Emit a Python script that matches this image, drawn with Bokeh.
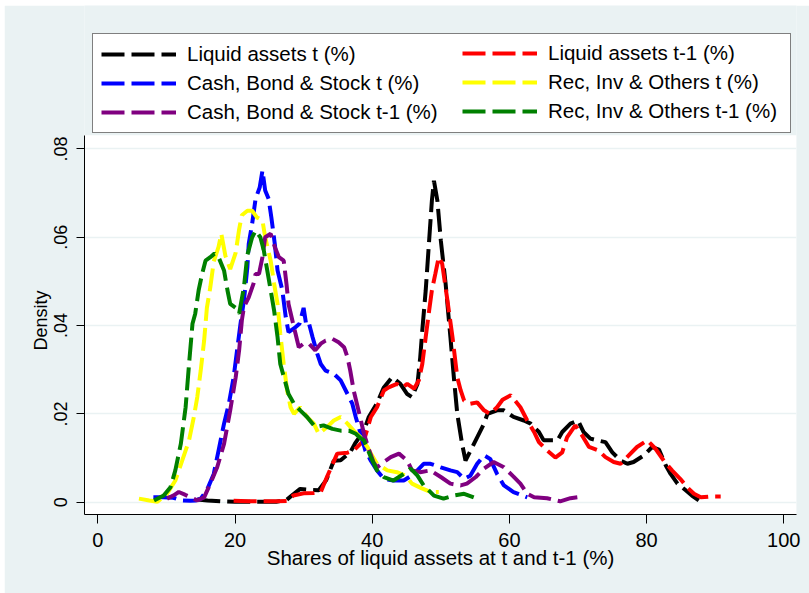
from bokeh.plotting import figure
from bokeh.models import Legend, LegendItem, FixedTicker, Range1d, BoxAnnotation, Title
from bokeh.embed import file_html
from bokeh.resources import INLINE

# ---- data (x = share in %, y = density) ----
liq_t_x = [14.5, 16, 18, 20, 22, 24, 26, 27.5, 28.5, 29.5, 31, 32.2, 33.3, 34.4, 35.4, 36.8, 37.5,
           38.8, 39.5, 40.7, 41.7, 42.9, 44.1, 45.1, 45.8, 46.6, 47.0, 47.3, 47.8, 48.3, 48.7, 49.0,
           49.5, 50.0, 50.7, 51.4, 51.9, 52.4, 53.1, 53.6, 54.6, 55.3, 56.3, 56.8, 58.2, 59.2, 60.6,
           62.1, 63.1, 64.3, 65.0, 66.0, 67.0, 67.7, 68.9, 70.0, 70.8, 71.8, 72.8, 74.0, 75.0, 76.2,
           77.2, 78.1, 79.6, 80.8, 81.8, 82.8, 83.5, 84.5, 85.7, 86.6, 87.6]
liq_t_y = [0.0006, 0.0004, 0.0002, 0.0001, 0.0001, 0.0001, 0.0001, 0.0005, 0.0018, 0.0030, 0.0028,
           0.0027, 0.0050, 0.0094, 0.0095, 0.0113, 0.0133, 0.0162, 0.0193, 0.0224, 0.0260, 0.0283,
           0.0268, 0.0245, 0.0238, 0.0268, 0.0328, 0.0389, 0.0480, 0.0593, 0.0683, 0.0728, 0.0683,
           0.0593, 0.0495, 0.0374, 0.0283, 0.0200, 0.0132, 0.0094, 0.0125, 0.0147, 0.0178, 0.0200,
           0.0208, 0.0208, 0.0193, 0.0185, 0.0178, 0.0159, 0.0140, 0.0140, 0.0140, 0.0159, 0.0178,
           0.0185, 0.0159, 0.0144, 0.0140, 0.0136, 0.0113, 0.0094, 0.0087, 0.0091, 0.0106, 0.0125,
           0.0119, 0.0083, 0.0064, 0.0042, 0.0027, 0.0015, 0.0004]

liq_t1_x = [19.8, 22, 24, 26, 27.6, 28.5, 30, 31.5, 32.5, 33.4, 34.9, 36.4, 37.3, 38.8, 39.8, 40.7,
            41.7, 42.4, 43.6, 44.4, 45.1, 46.1, 46.8, 47.3, 47.8, 48.3, 48.7, 49.2, 49.7, 50.2, 50.9,
            51.7, 52.4, 52.9, 53.4, 54.3, 55.3, 56.3, 57.2, 58.2, 59.0, 60.2, 61.6, 62.6, 63.6, 64.3,
            65.5, 66.7, 67.7, 68.4, 69.6, 70.6, 71.6, 73.0, 74.0, 75.2, 76.2, 77.4, 78.6, 80.1, 81.3,
            82.5, 83.7, 84.9, 85.9, 86.9, 87.9, 89.3, 90.8]
liq_t1_y = [0.0003, 0.0002, 0.0002, 0.0002, 0.0003, 0.0015, 0.0020, 0.0021, 0.0023, 0.0057, 0.0110,
            0.0112, 0.0117, 0.0140, 0.0193, 0.0215, 0.0253, 0.0260, 0.0268, 0.0260, 0.0268, 0.0257,
            0.0276, 0.0313, 0.0374, 0.0434, 0.0480, 0.0517, 0.0555, 0.0540, 0.0464, 0.0374, 0.0283,
            0.0253, 0.0230, 0.0223, 0.0226, 0.0208, 0.0200, 0.0215, 0.0232, 0.0242, 0.0215, 0.0185,
            0.0159, 0.0136, 0.0117, 0.0101, 0.0113, 0.0147, 0.0174, 0.0151, 0.0125, 0.0117, 0.0102,
            0.0091, 0.0087, 0.0106, 0.0125, 0.0140, 0.0121, 0.0094, 0.0072, 0.0053, 0.0034, 0.0019,
            0.0011, 0.0013, 0.0013]

cbs_t_x = [8.1, 9.5, 11, 12.3, 13.5, 14.3, 15.0, 15.9, 16.9, 17.6, 18.4, 19.1, 19.8, 20.3, 20.8, 21.3,
           21.8, 22.0, 22.5, 23.0, 23.6, 24.0, 24.4, 24.9, 25.3, 25.8, 26.2, 26.9, 27.4, 27.8, 28.8,
           29.4, 30.0, 30.4, 30.8, 31.3, 32.0, 32.5, 33.2, 34.4, 35.4, 36.4, 37.1, 37.6, 38.3, 39.0,
           39.8, 40.7, 41.7, 43.1, 44.6, 46.1, 47.5, 48.5, 50.0, 51.4, 52.4, 53.4, 54.3, 55.3, 56.3,
           57.2, 58.2, 59.2, 60.6, 62.6]
cbs_t_y = [0.0011, 0.0011, 0.0010, 0.0004, 0.0003, 0.0004, 0.0008, 0.0027, 0.0064, 0.0117, 0.0178,
           0.0223, 0.0283, 0.0344, 0.0404, 0.0457, 0.0532, 0.0585, 0.0631, 0.0687, 0.0713, 0.0751,
           0.0706, 0.0687, 0.0645, 0.0585, 0.0525, 0.0480, 0.0419, 0.0385, 0.0396, 0.0404, 0.0440,
           0.0400, 0.0404, 0.0374, 0.0336, 0.0313, 0.0298, 0.0291, 0.0276, 0.0245, 0.0223, 0.0193,
           0.0155, 0.0117, 0.0094, 0.0072, 0.0053, 0.0049, 0.0049, 0.0064, 0.0087, 0.0087, 0.0079,
           0.0072, 0.0068, 0.0053, 0.0060, 0.0087, 0.0106, 0.0098, 0.0064, 0.0038, 0.0023, 0.0011]

cbs_t1_x = [10.1, 11.0, 11.8, 12.7, 13.5, 14.5, 15.5, 16.4, 17.4, 18.4, 19.3, 20.1, 20.6, 21.0, 21.3,
            22.0, 22.7, 23.0, 23.5, 24.0, 24.4, 25.2, 25.8, 26.4, 27.1, 27.5, 27.8, 28.6, 29.3, 30.0,
            30.8, 31.7, 32.5, 33.2, 34.2, 35.1, 35.9, 36.4, 36.8, 37.3, 38.0, 38.8, 39.5, 40.2, 40.7,
            41.7, 42.7, 43.9, 45.1, 45.8, 47.0, 48.5, 50.0, 51.4, 52.9, 53.8, 55.1, 56.3, 57.7, 59.2,
            60.6, 61.6, 62.6, 63.6, 65.5, 67.4, 68.9, 69.9]
cbs_t1_y = [0.0008, 0.0015, 0.0023, 0.0017, 0.0011, 0.0004, 0.0011, 0.0042, 0.0079, 0.0132, 0.0208,
            0.0283, 0.0344, 0.0412, 0.0442, 0.0464, 0.0495, 0.0517, 0.0517, 0.0555, 0.0600, 0.0608,
            0.0578, 0.0555, 0.0547, 0.0495, 0.0449, 0.0396, 0.0351, 0.0359, 0.0359, 0.0344, 0.0359,
            0.0366, 0.0370, 0.0362, 0.0351, 0.0328, 0.0298, 0.0253, 0.0208, 0.0155, 0.0120, 0.0090,
            0.0079, 0.0091, 0.0102, 0.0110, 0.0094, 0.0072, 0.0068, 0.0072, 0.0057, 0.0042, 0.0038,
            0.0042, 0.0057, 0.0076, 0.0091, 0.0079, 0.0058, 0.0042, 0.0019, 0.0011, 0.0009, 0.0002,
            0.0009, 0.0011]

rio_t_x = [6.0, 7.5, 8.7, 10.1, 11.3, 12.3, 13.3, 14.0, 14.5, 15.0, 15.5, 15.9, 16.4, 16.9, 17.6,
           18.0, 18.6, 19.3, 20.1, 20.6, 21.0, 21.8, 22.5, 23.2, 24.0, 24.4, 25.2, 25.7, 26.2, 26.6,
           27.1, 27.6, 28.1, 28.6, 29.5, 30.5, 31.5, 32.2, 33.4, 34.4, 35.4, 36.4, 37.3, 38.3, 39.3,
           39.8, 40.7, 42.2, 43.6, 44.9, 45.8, 47.0, 48.5, 49.7]
rio_t_y = [0.0008, 0.0004, 0.0001, 0.0019, 0.0049, 0.0094, 0.0140, 0.0193, 0.0238, 0.0298, 0.0366,
           0.0440, 0.0487, 0.0545, 0.0578, 0.0608, 0.0558, 0.0528, 0.0565, 0.0618, 0.0650, 0.0660,
           0.0660, 0.0645, 0.0638, 0.0600, 0.0547, 0.0495, 0.0449, 0.0381, 0.0313, 0.0253, 0.0215,
           0.0200, 0.0215, 0.0193, 0.0178, 0.0155, 0.0170, 0.0185, 0.0193, 0.0178, 0.0162, 0.0147,
           0.0125, 0.0110, 0.0087, 0.0072, 0.0068, 0.0060, 0.0042, 0.0033, 0.0023, 0.0023]

rio_t1_x = [8.2, 9.6, 10.6, 11.3, 12.1, 12.8, 13.3, 13.8, 14.2, 14.7, 15.2, 15.7, 16.4, 17.0, 17.6,
            18.4, 18.9, 19.3, 20.1, 20.6, 21.3, 21.8, 22.5, 23.0, 23.7, 24.2, 24.7, 25.2, 25.7, 26.2,
            26.6, 27.4, 27.8, 28.6, 29.5, 30.5, 31.7, 32.9, 34.2, 35.4, 36.6, 37.6, 38.3, 38.8, 39.8,
            40.7, 41.7, 43.1, 44.6, 45.6, 46.6, 47.5, 49.0, 50.4, 51.9, 53.4, 54.8]
rio_t1_y = [0.0004, 0.0015, 0.0034, 0.0072, 0.0132, 0.0215, 0.0313, 0.0404, 0.0427, 0.0480, 0.0517,
            0.0547, 0.0555, 0.0563, 0.0555, 0.0525, 0.0480, 0.0449, 0.0440, 0.0427, 0.0487, 0.0560,
            0.0600, 0.0615, 0.0600, 0.0570, 0.0525, 0.0480, 0.0434, 0.0374, 0.0313, 0.0268, 0.0245,
            0.0223, 0.0208, 0.0193, 0.0170, 0.0174, 0.0166, 0.0162, 0.0162, 0.0155, 0.0145, 0.0140,
            0.0102, 0.0072, 0.0057, 0.0049, 0.0064, 0.0076, 0.0060, 0.0038, 0.0015, 0.0008, 0.0015,
            0.0019, 0.0011]

x_ticks = [0, 20, 40, 60, 80, 100]
y_ticks = [0, 0.02, 0.04, 0.06, 0.08]
y_tick_labels = ["0", ".02", ".04", ".06", ".08"]

labels = ["Liquid assets t (%)", "Liquid assets t-1 (%)", "Cash, Bond & Stock t (%)",
          "Rec, Inv & Others t (%)", "Cash, Bond & Stock t-1 (%)", "Rec, Inv & Others t-1 (%)"]
colors = ["#000000", "#FF0000", "#0000FF", "#FFFF00", "#800080", "#008000"]

# axis extents of the plot region (white area); the frame extends higher to hold the legend
X_LO, X_HI = -1.94, 101.85
Y_LO, Y_HI = -0.00279, 0.0831
Y_FRAME_TOP = 0.1125

BG = "#EAF2F3"
FONT = "Liberation Sans"

p = figure(width=805, height=588, output_backend="svg", toolbar_location=None, title=None,
           x_range=Range1d(X_LO, X_HI), y_range=Range1d(Y_LO, Y_FRAME_TOP),
           min_border_left=80, min_border_right=13, min_border_top=0, min_border_bottom=79)
p.margin = (5, 0, 0, 4)
p.background_fill_color = BG
p.border_fill_color = BG
p.outline_line_color = None

# white plot region
p.add_layout(BoxAnnotation(bottom=Y_LO, top=Y_HI, fill_color="white", fill_alpha=1.0,
                           line_color=None, level="image"))

p.xgrid.visible = False
p.ygrid.grid_line_color = BG
p.ygrid.grid_line_width = 1.5

p.xaxis.ticker = FixedTicker(ticks=x_ticks)
p.yaxis.ticker = FixedTicker(ticks=y_ticks)
p.yaxis.major_label_overrides = {t: s for t, s in zip(y_ticks, y_tick_labels)}
p.yaxis.major_label_orientation = "vertical"
p.yaxis.bounds = (Y_LO, Y_HI)

for ax in (p.xaxis[0], p.yaxis[0]):
    ax.axis_line_color = "black"
    ax.axis_line_width = 1
    ax.major_tick_line_color = "black"
    ax.major_tick_line_width = 1
    ax.major_tick_in = 0
    ax.minor_tick_line_color = None
    ax.major_label_text_font = FONT
    ax.major_label_text_color = "black"
    ax.axis_label_text_font = FONT
    ax.axis_label_text_font_style = "normal"
    ax.axis_label_text_color = "black"

p.xaxis.major_tick_out = 9
p.xaxis.major_label_text_font_size = "20px"
p.xaxis.major_label_standoff = 9
p.xaxis.axis_label = "Shares of liquid assets at t and t-1 (%)"
p.xaxis.axis_label_text_font_size = "20.5px"
p.xaxis.axis_label_standoff = -4

p.yaxis.major_tick_out = 8
p.yaxis.major_label_text_font_size = "18px"
p.yaxis.major_label_standoff = 9

# y-axis title, centred on the white plot region rather than the whole frame
p.add_layout(Title(text="Density", align="left", offset=164, vertical_align="bottom",
                   standoff=2, text_font=FONT, text_font_size="18px",
                   text_font_style="normal", text_color="black"), "left")

series = [(liq_t_x, liq_t_y), (liq_t1_x, liq_t1_y), (cbs_t_x, cbs_t_y),
          (rio_t_x, rio_t_y), (cbs_t1_x, cbs_t1_y), (rio_t1_x, rio_t1_y)]
rends = []
for (xs, ys), c in zip(series, colors):
    r = p.line(xs, ys, line_color=c, line_width=4, line_dash="23 7")
    rends.append(r)

common = dict(label_text_font=FONT, label_text_font_size="20.5px", label_text_color="black",
              glyph_width=75, glyph_height=20, label_height=20, label_standoff=11,
              spacing=5, padding=8, margin=0)

# left column (with the box drawn round both columns) and right column
legend_a = Legend(items=[LegendItem(label=labels[i], renderers=[rends[i]]) for i in (0, 2, 4)],
                  location=(8, 381), border_line_color="black", border_line_width=1,
                  background_fill_color="white", background_fill_alpha=1.0,
                  label_width=595, **common)
legend_b = Legend(items=[LegendItem(label=labels[i], renderers=[rends[i]]) for i in (1, 3, 5)],
                  location=(378, 391), border_line_color=None, background_fill_alpha=0.0,
                  **common)
p.add_layout(legend_a)
p.add_layout(legend_b)

open("out.html", "w").write(file_html(p, INLINE))
